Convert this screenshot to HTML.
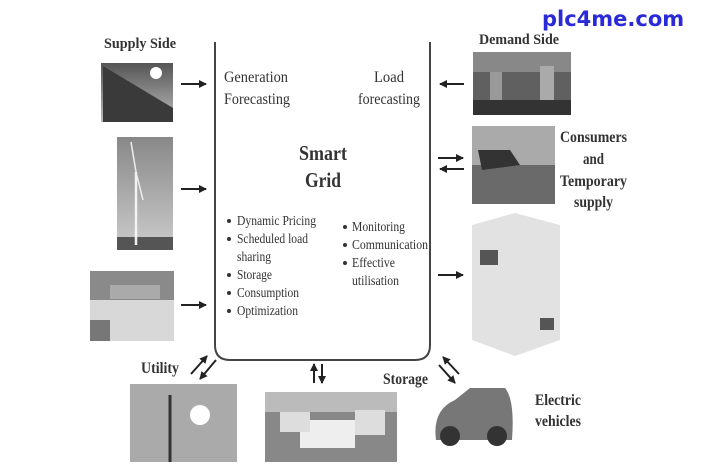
<!DOCTYPE html>
<html><head><meta charset="utf-8"><style>
html,body{margin:0;padding:0;background:#fff;width:702px;height:474px;overflow:hidden}
svg{display:block}
text{font-family:"Liberation Serif","Times New Roman",serif;fill:#333}
.b{font-weight:bold}
</style></head><body>
<svg width="702" height="474" viewBox="0 0 702 474" xmlns="http://www.w3.org/2000/svg">
<defs>
<marker id="a" markerWidth="8" markerHeight="8" refX="7" refY="4" orient="auto" markerUnits="userSpaceOnUse"><path d="M0,0 L8,4 L0,8 z" fill="#222"/></marker>
<linearGradient id="sky" x1="0" y1="0" x2="0" y2="1"><stop offset="0" stop-color="#555"/><stop offset="1" stop-color="#bbb"/></linearGradient>
<linearGradient id="sky2" x1="0" y1="0" x2="0" y2="1"><stop offset="0" stop-color="#888"/><stop offset="1" stop-color="#ccc"/></linearGradient>
</defs>
<path d="M215,42 V345 Q215,360 230,360 H415 Q430,360 430,345 V42" fill="none" stroke="#444" stroke-width="2"/>
<text x="542" y="26" style="font-family:'DejaVu Sans',sans-serif;fill:#2a2ad8" font-weight="bold" font-size="21">plc4me.com</text>
<text class="b" x="104" y="48" font-size="15" textLength="72" lengthAdjust="spacingAndGlyphs">Supply Side</text>
<text class="b" x="479" y="44" font-size="15" textLength="80" lengthAdjust="spacingAndGlyphs">Demand Side</text>
<g font-size="16" lengthAdjust="spacingAndGlyphs">
<text x="224" y="82" textLength="64" lengthAdjust="spacingAndGlyphs">Generation</text>
<text x="224" y="104" textLength="66" lengthAdjust="spacingAndGlyphs">Forecasting</text>
<text x="374" y="82" textLength="30" lengthAdjust="spacingAndGlyphs">Load</text>
<text x="358" y="104" textLength="62" lengthAdjust="spacingAndGlyphs">forecasting</text>
</g>
<text class="b" x="299" y="160" font-size="21" textLength="48" lengthAdjust="spacingAndGlyphs">Smart</text>
<text class="b" x="305" y="187" font-size="21" textLength="36" lengthAdjust="spacingAndGlyphs">Grid</text>
<g fill="#333">
<circle cx="229" cy="221" r="2"/><circle cx="229" cy="239" r="2"/><circle cx="229" cy="275" r="2"/><circle cx="229" cy="293" r="2"/><circle cx="229" cy="311" r="2"/>
<circle cx="345" cy="227" r="2"/><circle cx="345" cy="245" r="2"/><circle cx="345" cy="263" r="2"/>
</g>
<g font-size="14">
<text x="237" y="225" textLength="79" lengthAdjust="spacingAndGlyphs">Dynamic Pricing</text>
<text x="237" y="243" textLength="71" lengthAdjust="spacingAndGlyphs">Scheduled load</text>
<text x="237" y="261" textLength="34" lengthAdjust="spacingAndGlyphs">sharing</text>
<text x="237" y="279" textLength="35" lengthAdjust="spacingAndGlyphs">Storage</text>
<text x="237" y="297" textLength="62" lengthAdjust="spacingAndGlyphs">Consumption</text>
<text x="237" y="315" textLength="61" lengthAdjust="spacingAndGlyphs">Optimization</text>
<text x="352" y="231" textLength="53" lengthAdjust="spacingAndGlyphs">Monitoring</text>
<text x="352" y="249" textLength="76" lengthAdjust="spacingAndGlyphs">Communication</text>
<text x="352" y="267" textLength="43" lengthAdjust="spacingAndGlyphs">Effective</text>
<text x="352" y="285" textLength="47" lengthAdjust="spacingAndGlyphs">utilisation</text>
</g>
<g class="b" font-size="16">
<text class="b" x="560" y="142" textLength="67" lengthAdjust="spacingAndGlyphs">Consumers</text>
<text class="b" x="583" y="164" textLength="21" lengthAdjust="spacingAndGlyphs">and</text>
<text class="b" x="560" y="186" textLength="67" lengthAdjust="spacingAndGlyphs">Temporary</text>
<text class="b" x="574" y="207" textLength="39" lengthAdjust="spacingAndGlyphs">supply</text>
<text class="b" x="535" y="405" textLength="46" lengthAdjust="spacingAndGlyphs">Electric</text>
<text class="b" x="535" y="426" textLength="46" lengthAdjust="spacingAndGlyphs">vehicles</text>
<text class="b" x="141" y="373" textLength="38" lengthAdjust="spacingAndGlyphs">Utility</text>
<text class="b" x="383" y="384" textLength="45" lengthAdjust="spacingAndGlyphs">Storage</text>
</g>
<!-- images -->
<rect x="101" y="63" width="72" height="59" fill="url(#sky)"/>
<polygon points="103,66 173,108 173,122 103,122" fill="#3a3a3a"/>
<circle cx="156" cy="73" r="6" fill="#fff"/>
<rect x="117" y="137" width="56" height="113" fill="url(#sky2)"/>
<rect x="117" y="237" width="56" height="13" fill="#555"/>
<line x1="136" y1="245" x2="136" y2="172" stroke="#f2f2f2" stroke-width="2.5"/>
<line x1="136" y1="172" x2="131" y2="142" stroke="#eee" stroke-width="1.5"/>
<line x1="136" y1="172" x2="143" y2="200" stroke="#eee" stroke-width="1.5"/>
<rect x="90" y="271" width="84" height="70" fill="#8a8a8a"/>
<rect x="110" y="285" width="50" height="14" fill="#aaa"/>
<rect x="90" y="300" width="84" height="41" fill="#d8d8d8"/>
<rect x="90" y="320" width="20" height="21" fill="#777"/>
<rect x="473" y="52" width="98" height="63" fill="#606060"/>
<rect x="473" y="52" width="98" height="20" fill="#888"/>
<rect x="490" y="72" width="12" height="35" fill="#999"/><rect x="540" y="66" width="14" height="40" fill="#aaa"/>
<rect x="473" y="100" width="98" height="15" fill="#333"/>
<rect x="472" y="126" width="83" height="78" fill="#aaa"/>
<rect x="472" y="165" width="83" height="39" fill="#6a6a6a"/>
<polygon points="478,150 510,150 520,165 482,170" fill="#333"/>
<polygon points="472,225 515,213 560,225 560,340 515,356 472,340" fill="#e2e2e2"/>
<rect x="480" y="250" width="18" height="15" fill="#555"/>
<rect x="540" y="318" width="14" height="12" fill="#555"/>
<rect x="130" y="384" width="107" height="78" fill="#aaa"/>
<circle cx="200" cy="415" r="10" fill="#fff"/>
<line x1="170" y1="462" x2="170" y2="395" stroke="#333" stroke-width="3"/>
<rect x="265" y="392" width="132" height="70" fill="#888"/>
<rect x="265" y="392" width="132" height="20" fill="#bbb"/>
<rect x="300" y="420" width="55" height="28" fill="#eee"/>
<rect x="280" y="412" width="30" height="20" fill="#ddd"/>
<rect x="355" y="410" width="30" height="25" fill="#ddd"/>
<path d="M436,440 Q432,410 455,400 L470,388 L505,388 Q515,400 512,440 Z" fill="#777"/>
<circle cx="450" cy="436" r="10" fill="#333"/><circle cx="497" cy="436" r="10" fill="#333"/>
<g stroke="#222" stroke-width="2" marker-end="url(#a)">
<line x1="181" y1="84" x2="206" y2="84"/>
<line x1="181" y1="189" x2="206" y2="189"/>
<line x1="181" y1="305" x2="206" y2="305"/>
<line x1="464" y1="84" x2="440" y2="84"/>
<line x1="438" y1="158" x2="463" y2="158"/>
<line x1="464" y1="169" x2="440" y2="169"/>
<line x1="438" y1="275" x2="463" y2="275"/>
<line x1="191" y1="374" x2="207" y2="356"/>
<line x1="216" y1="360" x2="200" y2="379"/>
<line x1="314" y1="383" x2="314" y2="364"/>
<line x1="322" y1="364" x2="322" y2="383"/>
<line x1="459" y1="374" x2="443" y2="357"/>
<line x1="439" y1="365" x2="455" y2="383"/>
</g>
</svg>
</body></html>
